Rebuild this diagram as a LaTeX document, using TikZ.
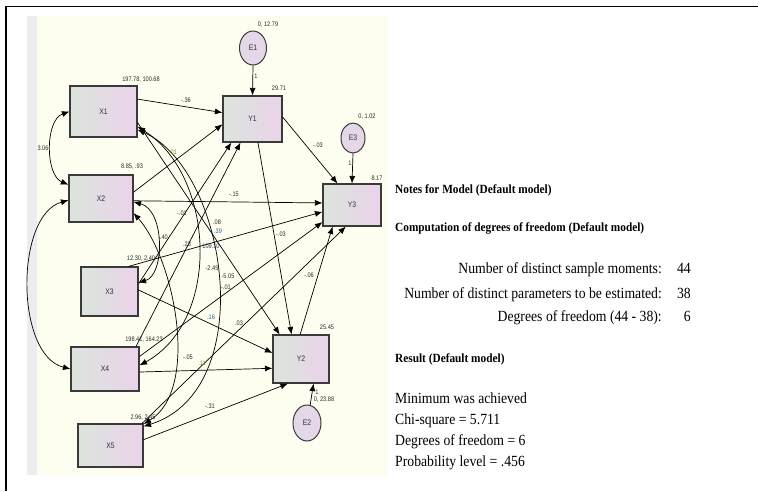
\documentclass[tikz,border=0pt]{standalone}
\usepackage{fontspec}
\setmainfont{Liberation Serif}
\newfontfamily\lblfont[FakeStretch=0.85]{Liberation Sans}
\newfontfamily\amos[FakeStretch=0.885]{Liberation Serif}
\newfontfamily\amosb[FakeStretch=0.905]{Liberation Serif}
\usetikzlibrary{arrows.meta,shapes.geometric}
\definecolor{bgyellow}{HTML}{FEFEF0}
\definecolor{bggray}{HTML}{EDEDED}
\definecolor{boxL}{HTML}{DCE4DC}
\definecolor{boxR}{HTML}{EAD3EA}
\definecolor{boxline}{HTML}{3A3A3A}
\definecolor{ellfill}{HTML}{E6D6E8}
\definecolor{lblcol}{HTML}{2A2A2A}
\definecolor{olive}{HTML}{8A8A10}
\definecolor{bluel}{HTML}{2A5C9A}
\definecolor{vartext}{HTML}{2C2C50}
\begin{document}
\begin{tikzpicture}[x=1pt,y=-1pt,
  box/.style={draw=boxline, line width=1.1pt, left color=boxL, right color=boxR, font=\lblfont\fontsize{8}{9}\selectfont, text=vartext, inner sep=0pt},
  err/.style={ellipse, draw=boxline, line width=1pt, left color=ellfill!80!boxL, right color=ellfill, font=\lblfont\fontsize{8}{9}\selectfont, text=vartext, inner sep=0pt},
  lbl/.style={font=\lblfont\fontsize{6.6}{7.5}\selectfont, text=lblcol, inner sep=0pt},
  reg/.style={-{Latex[length=7.5pt,width=6pt]}, line width=0.7pt},
  cov/.style={{Latex[length=7.5pt,width=6pt]}-{Latex[length=7.5pt,width=6pt]}, line width=0.7pt},
  note/.style={font=\amosb\bfseries\fontsize{12.5}{14}\selectfont, inner sep=0pt, anchor=base west},
  txt/.style={font=\amos\fontsize{15.5}{17}\selectfont, inner sep=0pt}
]
\useasboundingbox (0,0) rectangle (758,491);
% frame and background
\fill[bggray] (27,16) rectangle (37,475);
\fill[bgyellow] (37,16) rectangle (388,475);
\draw[line width=1.4pt] (6,491) -- (6,6.5) -- (758,6.5);

% observed variables
\node[box, minimum width=67pt, minimum height=51pt] (X1) at (103.5,111.5) {X1};
\node[box, minimum width=64pt, minimum height=47pt] (X2) at (101,198.5) {X2};
\node[box, minimum width=57pt, minimum height=49pt] (X3) at (109.5,291.5) {X3};
\node[box, minimum width=68pt, minimum height=44pt] (X4) at (105,369) {X4};
\node[box, minimum width=65pt, minimum height=43pt] (X5) at (110.5,445.5) {X5};
\node[box, minimum width=59pt, minimum height=46pt] (Y1) at (252.5,119) {Y1};
\node[box, minimum width=56pt, minimum height=48pt] (Y2) at (301,359) {Y2};
\node[box, minimum width=58pt, minimum height=42pt] (Y3) at (352,205) {Y3};
% errors
\node[err, minimum width=27pt, minimum height=34pt] (E1) at (253,48) {E1};
\node[err, minimum width=24pt, minimum height=30pt] (E3) at (353,138) {E3};
\node[err, minimum width=28pt, minimum height=36pt] (E2) at (307,423) {E2};

% regression paths
\draw[reg] (E1.south) -- (Y1.north);
\draw[reg] (E3.south) -- (Y3.north);
\draw[reg] (E2.80) -- (Y2.-63);
\draw[reg] (X1.20) -- (Y1.168);
\draw[reg] (X2.11) -- (Y1.190);
\draw[reg] (X2.-4) -- (Y3.176);
\draw[reg] (X3.15) -- (Y1.228);
\draw[reg] (X4.36) -- (Y1.243);
\draw[reg] (X3.53) -- (Y3.193);
\draw[reg] (X4.20) -- (Y3.210);
\draw[reg] (X5.35) -- (Y3.254);
\draw[reg] (Y1.4) -- (Y3.124);
\draw[reg] (Y1.-77) -- (Y2.111);
\draw[reg] (Y2.92) -- (Y3.228);
\draw[reg] (X1.-18) -- (Y2.131);
\draw[reg] (X3.3) -- (Y2.168);
\draw[reg] (X4.-5) -- (Y2.198);
\draw[reg] (X5.10) -- (Y2.242);

% covariances
\draw[cov] (X1.180) .. controls (45,120) and (45,175) .. (X2.157);
\draw[cov] (X2.183) .. controls (15,215) and (15,355) .. (X4.180);
\draw[cov] (X2.-6) .. controls (165,210) and (165,275) .. (X3.17);
\draw[cov] (X1.-24) .. controls (215,175) and (222,320) .. (X4.6);
\draw[cov] (X1.-28) .. controls (228,170) and (260,390) .. (X5.30);
\draw[cov] (X2.-24) .. controls (175,260) and (200,390) .. (X5.33);

% labels
\node[lbl] (v1) at (141,80) {197.78, 100.68};
\node[lbl] (v2) at (132,167) {8.85, .93};
\node[lbl] (v3) at (141,259) {12.30, 2.40};
\node[lbl] (v4) at (144,340) {198.41, 164.23};
\node[lbl] (v5) at (143,418) {2.96, 2.45};
\node[lbl] (vy1) at (279,88) {29.71};
\node[lbl] (vy3) at (377,178) {8.17};
\node[lbl] (vy2) at (327,327) {25.45};
\node[lbl] (ve1) at (268,25) {0, 12.79};
\node[lbl] (ve3) at (367,117) {0, 1.02};
\node[lbl] (ve2) at (324,400) {0, 23.88};
\node[lbl] (w1) at (256,76) {1};
\node[lbl] (w3) at (350,163) {1};
\node[lbl] (w2) at (317,392) {1};
\node[lbl] (c1) at (186,100) {-.36};
\node[lbl] (c2) at (43,148) {3.06};
\node[lbl, text=olive] (c3) at (173,152) {.01};
\node[lbl] (c4) at (234,194) {-.15};
\node[lbl] (c5) at (318,145) {-.03};
\node[lbl] (c6) at (182,213) {-.01};
\node[lbl] (c7) at (217,222) {.08};
\node[lbl, text=bluel] (c8) at (218,231) {.39};
\node[lbl, text=bluel!60!black] (c9) at (211,246) {109.10};
\node[lbl] (c10) at (163,237) {-.40};
\node[lbl] (c11) at (187,244) {.23};
\node[lbl] (c12) at (212,268) {-2.45};
\node[lbl] (c13) at (228,276) {-5.05};
\node[lbl] (c14) at (226,287) {-.01};
\node[lbl] (c15) at (281,234) {-.03};
\node[lbl] (c16) at (309,275) {-.06};
\node[lbl, text=bluel] (c17) at (211,317) {.16};
\node[lbl] (c18) at (239,323) {.03};
\node[lbl] (c19) at (188,357) {-.05};
\node[lbl, text=olive] (c20) at (202,363) {.11};
\node[lbl] (c21) at (210,406) {-.31};

% right-hand text
\node[note] (n1) at (395,193) {Notes for Model (Default model)};
\node[note] (n2) at (395,231) {Computation of degrees of freedom (Default model)};
\node[txt, anchor=base east] (t1) at (662,273) {Number of distinct sample moments:};
\node[txt, anchor=base east] (t2) at (662,298) {Number of distinct parameters to be estimated:};
\node[txt, anchor=base east] (t3) at (662,321) {Degrees of freedom (44 - 38):};
\node[txt, anchor=base east] (k1) at (691,273) {44};
\node[txt, anchor=base east] (k2) at (691,298) {38};
\node[txt, anchor=base east] (k3) at (691,321) {6};
\node[note] (n3) at (395,362) {Result (Default model)};
\node[txt, anchor=base west] (r1) at (395,403) {Minimum was achieved};
\node[txt, anchor=base west] (r2) at (395,424) {Chi-square = 5.711};
\node[txt, anchor=base west] (r3) at (395,445) {Degrees of freedom = 6};
\node[txt, anchor=base west] (r4) at (395,466) {Probability level = .456};
\end{tikzpicture}
\end{document}
